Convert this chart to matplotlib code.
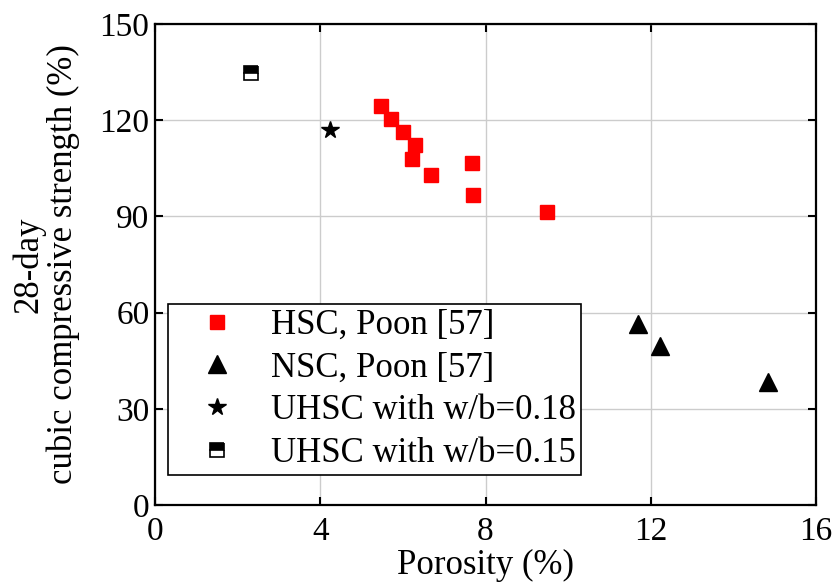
import matplotlib
matplotlib.use("Agg")
import matplotlib.pyplot as plt

plt.rcParams['font.family'] = ['Liberation Serif', 'DejaVu Serif']

# HSC, Poon [57]
hsc_x = [5.47, 5.71, 6.00, 6.29, 6.22, 6.68, 7.67, 7.70, 9.49]
hsc_y = [124.3, 120.3, 116.2, 112.4, 108.0, 103.0, 106.5, 96.8, 91.4]

# NSC, Poon [57]
nsc_x = [11.69, 12.22, 14.84]
nsc_y = [56.4, 49.5, 38.5]

# UHSC w/b=0.18
u18_x = [4.24]
u18_y = [116.8]

# UHSC w/b=0.15
u15_x = [2.32]
u15_y = [134.7]

xticks = [0, 4, 8, 12, 16]
yticks = [0, 30, 60, 90, 120, 150]

fig = plt.figure(figsize=(8.37, 5.88), dpi=100)
ax = fig.add_axes([155 / 837, 1 - 505 / 588, 661 / 837, 481 / 588])

ax.plot(hsc_x, hsc_y, 's', color='red', markersize=10, linestyle='none',
        label='HSC, Poon [57]')
ax.plot(nsc_x, nsc_y, '^', color='black', markersize=13, linestyle='none',
        label='NSC, Poon [57]')
ax.plot(u18_x, u18_y, '*', color='black', markersize=13, linestyle='none',
        label='UHSC with w/b=0.18')
ax.plot(u15_x, u15_y, 's', color='black', markersize=9.5, linestyle='none',
        fillstyle='top', markerfacecoloralt='white', markeredgewidth=1.2,
        label='UHSC with w/b=0.15')

ax.set_xlim(0, 16)
ax.set_ylim(0, 150)
ax.set_xticks(xticks)
ax.set_yticks(yticks)
ax.grid(True, color='#cccccc', linewidth=1)
ax.set_axisbelow(True)
ax.tick_params(direction='in', top=True, right=True, labelsize=24,
               length=6, width=1.5)
ax.tick_params(axis='x', pad=8)
ax.tick_params(axis='y', pad=4)
for s in ax.spines.values():
    s.set_linewidth(1.6)

ax.set_xlabel('Porosity (%)', fontsize=25, labelpad=2)
ax.set_ylabel('28-day\ncubic compressive strength (%)', fontsize=25,
              linespacing=1.05, labelpad=14)

leg = ax.legend(loc='lower left', bbox_to_anchor=(0.02, 0.062), fontsize=25,
                frameon=True, fancybox=False, edgecolor='black',
                framealpha=1, handletextpad=0.3, borderpad=0.15,
                labelspacing=0.28, handlelength=2.5, borderaxespad=0)
leg.get_frame().set_linewidth(1.2)

fig.savefig('out.png', dpi=100)
